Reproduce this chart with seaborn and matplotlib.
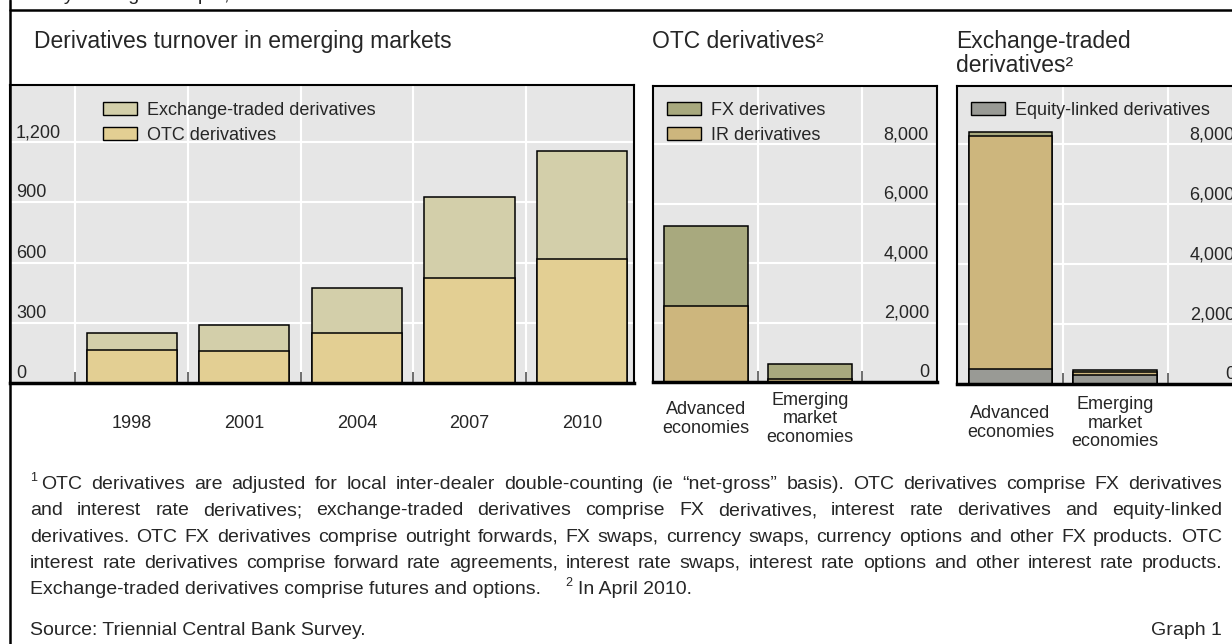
import matplotlib
matplotlib.use("Agg")
import numpy as np
import matplotlib.pyplot as plt
import matplotlib.transforms as mtransforms
from matplotlib import font_manager
from matplotlib.patches import Patch
from matplotlib.lines import Line2D
import seaborn as sns

# ---- data (billions of US dollars, daily averages) ----
years = ["1998", "2001", "2004", "2007", "2010"]
em_otc = [163, 158, 248, 523, 620]
em_exch = [84, 130, 225, 402, 538]

economies = ["Advanced\neconomies", "Emerging\nmarket\neconomies"]
otc_ir = [2570, 100]
otc_fx = [2680, 520]

exch_eq = [500, 300]
exch_ir = [7790, 100]
exch_fx = [120, 60]

ticks_left = [0, 300, 600, 900, 1200]
ticks_right = [0, 2000, 4000, 6000, 8000]

footnote_lines = [
    "OTC derivatives are adjusted for local inter-dealer double-counting (ie \u201cnet-gross\u201d basis). OTC derivatives comprise FX derivatives",
    "and interest rate derivatives; exchange-traded derivatives comprise FX derivatives, interest rate derivatives and equity-linked",
    "derivatives. OTC FX derivatives comprise outright forwards, FX swaps, currency swaps, currency options and other FX products. OTC",
    "interest rate derivatives comprise forward rate agreements, interest rate swaps, interest rate options and other interest rate products.",
]
footnote_last = "Exchange-traded derivatives comprise futures and options."
footnote_2 = "In April 2010."

# colours
BG = "#E6E6E6"
C_EXCH = "#D3CFAA"
C_OTC = "#E3CF93"
C_FX = "#A8A97E"
C_IR = "#CDB67D"
C_EQ = "#999A95"

sns.set_theme(style="white")
plt.rcParams["font.family"] = ["Liberation Sans", "DejaVu Sans"]

# narrow face for the notes if there is one
installed = {f.name for f in font_manager.fontManager.ttflist}
NOTE_FONT = "Liberation Sans"
for cand in ["Liberation Sans Narrow", "Arial Narrow"]:
    if cand in installed:
        NOTE_FONT = cand
        break

W, H = 1232, 644
fig = plt.figure(figsize=(W / 100, H / 100), dpi=100)
fig.patch.set_facecolor("white")


def px_axes(x0, y0, x1, y1):
    # pixel box (top-left origin) -> figure axes
    return fig.add_axes([x0 / W, 1 - y1 / H, (x1 - x0) / W, (y1 - y0) / H])


def stack(ax, cats, layers, colors):
    # draw from the full height down so lower layers cover upper ones
    cum = np.cumsum(layers, axis=0)
    for i in range(len(layers) - 1, -1, -1):
        sns.barplot(x=cats, y=list(cum[i]), color=colors[i], saturation=1,
                    width=0.8, edgecolor="black", linewidth=1.1,
                    errorbar=None, ax=ax)


def style(ax, ymax, ticks, side, xlim, bounds):
    ax.set_facecolor(BG)
    ax.set_ylim(0, ymax)
    ax.set_xlim(*xlim)
    ax.set_yticks(ticks)
    ax.set_xticks(bounds, minor=True)
    ax.set_axisbelow(True)
    ax.yaxis.grid(True, color="white", lw=1.5)
    ax.xaxis.grid(True, which="minor", color="white", lw=1.5)
    ax.xaxis.grid(False, which="major")
    ax.tick_params(axis="y", left=False, right=False, labelleft=False)
    ax.tick_params(axis="x", which="major", length=0, labelbottom=False)
    ax.tick_params(axis="x", which="minor", bottom=True, direction="in",
                   length=8, width=1.2, color="#555555")
    ax.set_xlabel("")
    ax.set_ylabel("")
    for s in ax.spines.values():
        s.set_visible(True)
        s.set_color("black")
        s.set_linewidth(1.5)
    ax.spines["bottom"].set_linewidth(2.5)
    tr = mtransforms.blended_transform_factory(ax.transAxes, ax.transData)
    tr = mtransforms.offset_copy(tr, fig=fig, x=0, y=5, units="dots")
    for t in ticks:
        if side == "left":
            ax.text(6 / ax.bbox.width, t, f"{t:,}", transform=tr,
                    ha="left", va="baseline", fontsize=13)
        else:
            ax.text(1 - 8 / ax.bbox.width, t, f"{t:,}", transform=tr,
                    ha="right", va="baseline", fontsize=13)


def cat_labels(ax, labels, dy):
    tr = mtransforms.blended_transform_factory(ax.transData, ax.transAxes)
    tr = mtransforms.offset_copy(tr, fig=fig, x=0, y=-dy, units="dots")
    for i, lab in enumerate(labels):
        ax.text(i, 0, lab, transform=tr, ha="center", va="center",
                fontsize=13, linespacing=1.12)


def add_legend(ax, items, x_px):
    ax.legend(handles=[Patch(facecolor=c, edgecolor="black", lw=1.0, label=l) for l, c in items],
              loc="upper left", bbox_to_anchor=(x_px / W, 1 - 102 / H),
              bbox_transform=fig.transFigure, frameon=False, fontsize=13,
              borderpad=0, borderaxespad=0, handlelength=1.9, handleheight=0.75,
              handletextpad=0.55, labelspacing=0.42)


# ---- panel 1 ----
ax1 = px_axes(10, 85, 634, 383)
stack(ax1, years, [em_otc, em_exch], [C_OTC, C_EXCH])
style(ax1, 1485, ticks_left, "left", (-1.08, 4.46), [-0.5, 0.5, 1.5, 2.5, 3.5])
cat_labels(ax1, years, 40)
add_legend(ax1, [("Exchange-traded derivatives", C_EXCH), ("OTC derivatives", C_OTC)], 103)

# ---- panel 2 ----
ax2 = px_axes(653, 86, 937, 382)
stack(ax2, economies, [otc_ir, otc_fx], [C_IR, C_FX])
style(ax2, 9950, ticks_right, "right", (-0.51, 2.22), [0.5, 1.5])
cat_labels(ax2, economies, 37)
add_legend(ax2, [("FX derivatives", C_FX), ("IR derivatives", C_IR)], 667)

# ---- panel 3 ----
ax3 = px_axes(957, 86, 1243, 384)
stack(ax3, economies, [exch_eq, exch_ir, exch_fx], [C_EQ, C_IR, C_FX])
style(ax3, 9950, ticks_right, "right", (-0.51, 2.22), [0.5, 1.5])
cat_labels(ax3, economies, 39)
add_legend(ax3, [("Equity-linked derivatives", C_EQ)], 971)

# ---- titles and frame ----
fig.text(30 / W, 1.0, "Daily averages in April, in billions of US dollars",
         fontsize=14, va="baseline", ha="left")
fig.text(34 / W, 1 - 30 / H, "Derivatives turnover in emerging markets", fontsize=16.5, va="top")
fig.text(652 / W, 1 - 30 / H, "OTC derivatives\u00b2", fontsize=16.5, va="top")
fig.text(956 / W, 1 - 30 / H, "Exchange-traded\nderivatives\u00b2", fontsize=16.5, va="top",
         linespacing=1.05)
fig.add_artist(Line2D([10 / W, 10 / W], [0, 1], transform=fig.transFigure, color="black", lw=1.8))
fig.add_artist(Line2D([10 / W, 1], [1 - 10 / H, 1 - 10 / H], transform=fig.transFigure,
                      color="black", lw=1.8))

# ---- footnotes (justified) ----
renderer = fig.canvas.get_renderer()
x_left, x_right = 30, 1222


def text_w(s, size):
    t = fig.text(0, 0, s, fontsize=size, family=NOTE_FONT)
    w = t.get_window_extent(renderer).width
    t.remove()
    return w


# size the notes so the fullest line just fills the column
FN = min(14.0, 12.0 * 1186 / max(text_w(l, 12.0) for l in footnote_lines))


def justify(line, x0, x1, ypx):
    words = line.split(" ")
    widths = [text_w(w, FN) for w in words]
    gap = (x1 - x0 - sum(widths)) / (len(words) - 1)
    x = x0
    for w, wd in zip(words, widths):
        fig.text(x / W, 1 - ypx / H, w, fontsize=FN, family=NOTE_FONT, va="baseline")
        x += wd + gap


base = 489
step = 26.3
fig.text(x_left / W, 1 - (base - 8) / H, "1", fontsize=9, family=NOTE_FONT, va="baseline")
for i, line in enumerate(footnote_lines):
    justify(line, 41 if i == 0 else x_left, x_right, base + i * step)
y5 = base + 4 * step
fig.text(x_left / W, 1 - y5 / H, footnote_last, fontsize=FN, family=NOTE_FONT, va="baseline")
xe = x_left + text_w(footnote_last, FN)
fig.text((xe + 24) / W, 1 - (y5 - 8) / H, "2", fontsize=9, family=NOTE_FONT, va="baseline")
fig.text((xe + 37) / W, 1 - y5 / H, footnote_2, fontsize=FN, family=NOTE_FONT, va="baseline")

fig.text(x_left / W, 1 - 635 / H, "Source: Triennial Central Bank Survey.", fontsize=FN,
         family=NOTE_FONT, va="baseline")
fig.text(x_right / W, 1 - 635 / H, "Graph 1", fontsize=FN, family=NOTE_FONT,
         va="baseline", ha="right")

fig.savefig("out.png", dpi=100)
